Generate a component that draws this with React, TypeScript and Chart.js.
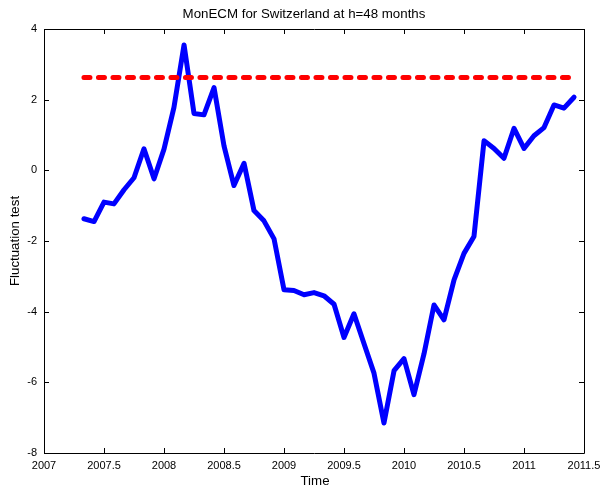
import React, { useEffect, useRef } from "react";
import { Chart, registerables } from "chart.js";

Chart.register(...registerables);

const dates: number[] = [
  2007.333, 2007.417, 2007.5, 2007.583, 2007.667, 2007.75, 2007.833, 2007.917,
  2008.0, 2008.083, 2008.167, 2008.25, 2008.333, 2008.417, 2008.5, 2008.583,
  2008.667, 2008.75, 2008.833, 2008.917, 2009.0, 2009.083, 2009.167, 2009.25,
  2009.333, 2009.417, 2009.5, 2009.583, 2009.667, 2009.75, 2009.833, 2009.917,
  2010.0, 2010.083, 2010.167, 2010.25, 2010.333, 2010.417, 2010.5, 2010.583,
  2010.667, 2010.75, 2010.833, 2010.917, 2011.0, 2011.083, 2011.167, 2011.25,
  2011.333, 2011.417,
];

const fluctuation: number[] = [
  -1.37, -1.45, -0.9, -0.95, -0.55, -0.21, 0.61, -0.24,
  0.6, 1.78, 3.55, 1.61, 1.57, 2.34, 0.69, -0.43,
  0.2, -1.14, -1.43, -1.94, -3.38, -3.4, -3.52, -3.46,
  -3.55, -3.79, -4.73, -4.06, -4.91, -5.74, -7.15, -5.67,
  -5.33, -6.35, -5.19, -3.81, -4.23, -3.1, -2.35, -1.87,
  0.84, 0.62, 0.34, 1.19, 0.62, 0.98, 1.21, 1.85,
  1.76, 2.07,
];

const criticalValue = 2.63;
const criticalDates: number[] = [2007.333, 2011.417];

const xTicks: number[] = [2007, 2007.5, 2008, 2008.5, 2009, 2009.5, 2010, 2010.5, 2011, 2011.5];
const yTicks: number[] = [-8, -6, -4, -2, 0, 2, 4];

const titleText = "MonECM for Switzerland at h=48 months";
const xTitle = "Time";
const yTitle = "Fluctuation test";

const FONT = "'Liberation Sans', Arial, Helvetica, sans-serif";

const framePlugin = {
  id: "matlabFrame",
  afterDraw(chart: any) {
    const { ctx, chartArea } = chart;
    const { left, right, top, bottom } = chartArea;
    ctx.save();
    ctx.strokeStyle = "#000";
    ctx.lineWidth = 1;
    ctx.beginPath();
    ctx.rect(Math.round(left) + 0.5, Math.round(top) + 0.5, Math.round(right - left), Math.round(bottom - top));
    ctx.stroke();
    const tl = 5;
    ctx.beginPath();
    xTicks.forEach((v) => {
      const px = Math.round(chart.scales.x.getPixelForValue(v)) + 0.5;
      ctx.moveTo(px, bottom);
      ctx.lineTo(px, bottom - tl);
      ctx.moveTo(px, top);
      ctx.lineTo(px, top + tl);
    });
    yTicks.forEach((v) => {
      const py = Math.round(chart.scales.y.getPixelForValue(v)) + 0.5;
      ctx.moveTo(left, py);
      ctx.lineTo(left + tl, py);
      ctx.moveTo(right, py);
      ctx.lineTo(right - tl, py);
    });
    ctx.stroke();

    ctx.fillStyle = "#000";
    ctx.textAlign = "center";
    ctx.textBaseline = "middle";
    ctx.font = `13.3px ${FONT}`;
    const cx = (left + right) / 2;
    ctx.fillText(titleText, cx - 10, 14);
    ctx.fillText(xTitle, cx + 1, 481);
    ctx.save();
    ctx.translate(15, (top + bottom) / 2);
    ctx.rotate(-Math.PI / 2);
    ctx.fillText(yTitle, 0, 0);
    ctx.restore();
    ctx.restore();
  },
};

export default function App() {
  const ref = useRef<HTMLCanvasElement | null>(null);
  useEffect(() => {
    if (!ref.current) return;
    const chart = new Chart(ref.current, {
      type: "line",
      data: {
        datasets: [
          {
            label: "critical",
            data: criticalDates.map((d) => ({ x: d, y: criticalValue })),
            borderColor: "#ff0000",
            borderWidth: 5,
            borderDash: [6, 8.5],
            borderCapStyle: "round",
            pointRadius: 0,
            fill: false,
            order: 0,
          },
          {
            label: "fluctuation",
            data: dates.map((d, i) => ({ x: d, y: fluctuation[i] })),
            borderColor: "#0000ff",
            borderWidth: 5,
            borderJoinStyle: "round",
            borderCapStyle: "round",
            pointRadius: 0,
            tension: 0,
            fill: false,
            order: 1,
          },
        ],
      },
      options: {
        responsive: false,
        animation: false,
        layout: { padding: { top: 29, right: 16, left: 0, bottom: 0 } },
        plugins: {
          legend: { display: false },
          title: { display: false },
          tooltip: { enabled: false },
        },
        scales: {
          x: {
            type: "linear",
            min: 2007,
            max: 2011.5,
            afterBuildTicks: (s: any) => {
              s.ticks = xTicks.map((v) => ({ value: v }));
            },
            afterFit: (s: any) => {
              s.height = 39;
              s.paddingLeft = 0;
              s.paddingRight = 0;
            },
            grid: { display: false, drawTicks: false },
            border: { display: false },
            ticks: {
              maxRotation: 0,
              autoSkip: false,
              padding: 6,
              color: "#000",
              font: { family: FONT, size: 11 },
              callback: (v: any) => String(v),
            },
          },
          y: {
            type: "linear",
            min: -8,
            max: 4,
            afterBuildTicks: (s: any) => {
              s.ticks = yTicks.map((v) => ({ value: v }));
            },
            afterFit: (s: any) => {
              s.width = 44;
              s.paddingTop = 0;
              s.paddingBottom = 0;
            },
            grid: { display: false, drawTicks: false },
            border: { display: false },
            ticks: {
              autoSkip: false,
              padding: 7,
              color: "#000",
              font: { family: FONT, size: 11 },
              callback: (v: any) => String(v),
            },
          },
        },
      },
      plugins: [framePlugin],
    } as any);
    return () => chart.destroy();
  }, []);
  return (
    <div style={{ position: "absolute", left: 0, top: 0, width: 600, height: 492, background: "#fff" }}>
      <canvas ref={ref} width={600} height={492} style={{ display: "block" }} />
    </div>
  );
}
